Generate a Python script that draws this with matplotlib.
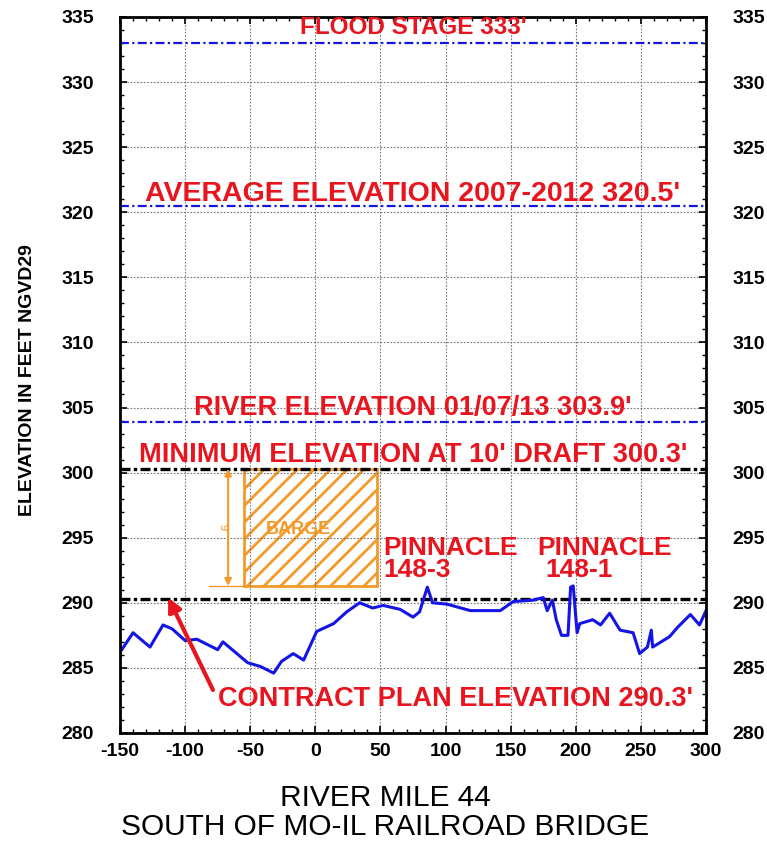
import numpy as np
import matplotlib.pyplot as plt
from matplotlib.patches import Rectangle

plt.rcParams['font.family'] = ['Liberation Sans', 'DejaVu Sans']
plt.rcParams['axes.unicode_minus'] = False
plt.rcParams['hatch.linewidth'] = 2.0
plt.rcParams['hatch.color'] = '#f39a2a'

# bed profile (river mile offset, elevation)
profile_x = [-150, -140, -127, -117, -110, -100, -91, -75, -71, -52, -42, -32, -26, -17, -9, 1,
             14, 24, 34, 44, 52, 65, 75, 80, 86, 90, 101, 119, 142, 152, 167, 175, 178, 182,
             185, 189, 194, 196, 198, 201, 203, 213, 219, 226, 234, 244, 249, 255, 258, 259,
             272, 278, 288, 295, 300]
profile_y = [286.2, 287.7, 286.6, 288.3, 288.0, 287.1, 287.2, 286.4, 287.0, 285.4, 285.1, 284.6,
             285.5, 286.1, 285.6, 287.8, 288.4, 289.3, 290.0, 289.6, 289.8, 289.5, 288.9, 289.3,
             291.2, 290.0, 289.9, 289.4, 289.4, 290.1, 290.2, 290.4, 289.4, 290.2, 288.7, 287.5,
             287.5, 291.2, 291.3, 287.7, 288.4, 288.7, 288.3, 289.2, 287.9, 287.7, 286.1, 286.6,
             287.9, 286.6, 287.4, 288.1, 289.1, 288.3, 289.4]

blue_levels = [333.0, 320.5, 303.9]
blue_labels = ["FLOOD STAGE 333'", "AVERAGE ELEVATION 2007-2012 320.5'", "RIVER ELEVATION 01/07/13 303.9'"]
black_levels = [300.3, 290.3]
min_label = "MINIMUM ELEVATION AT 10' DRAFT 300.3'"
contract_label = "CONTRACT PLAN ELEVATION 290.3'"

barge_x = [-55, 47]
barge_y = [291.3, 300.3]

red = '#e8141e'
blue = '#1414e6'
orange = '#f39a2a'

fig = plt.figure(figsize=(7.67, 8.47), dpi=100)
ax = fig.add_axes([0.1565, 0.1346, 0.764, 0.8454])

ax.set_xlim(-150, 300)
ax.set_ylim(280, 335)
ax.set_xticks(np.arange(-150, 301, 50))
ax.set_yticks(np.arange(280, 336, 5))
ax.set_xticks(np.arange(-150, 301, 10), minor=True)
ax.set_yticks(np.arange(280, 336, 1), minor=True)
ax.grid(True, which='major', color='#777777', linestyle=(0, (1.5, 1.5)), linewidth=0.8)
ax.tick_params(which='both', direction='in', top=True, right=True, labelright=True, labelsize=14)
ax.tick_params(axis='y', which='major', pad=19)
ax.tick_params(axis='x', which='major', pad=7)
ax.tick_params(which='major', length=5, width=1.2)
ax.tick_params(which='minor', length=3, width=1)
for lbl in ax.get_xticklabels() + ax.get_yticklabels():
    lbl.set_fontweight('bold')
for sp in ax.spines.values():
    sp.set_linewidth(2)

# reference levels
sizes = [17.5, 20.5, 19.5]
offsets = [0.7, 0.35, 0.5]
for lev, lab, fs, off in zip(blue_levels, blue_labels, sizes, offsets):
    ax.axhline(lev, color=blue, linewidth=1.6, dashes=(4, 1.5, 1, 1.5))
    ax.text(75, lev + off, lab, color=red, fontsize=fs, fontweight='bold', ha='center', va='baseline')
for lev in black_levels:
    ax.axhline(lev, color='black', linewidth=2.4, dashes=(3, 1, 1, 1))
ax.text(75, black_levels[0] + 0.5, min_label, color=red, fontsize=19.5, fontweight='bold',
        ha='center', va='baseline')

# barge
ax.add_patch(Rectangle((barge_x[0], barge_y[0]), barge_x[1] - barge_x[0], barge_y[1] - barge_y[0],
                       facecolor='none', edgecolor=orange, hatch='//', linewidth=2))
ax.text(-13, 295.6, 'BARGE', color=orange, fontsize=13, fontweight='bold', ha='center', va='center')
ax.annotate('', xy=(-67, barge_y[1]), xytext=(-67, barge_y[0]),
            arrowprops=dict(arrowstyle='<|-|>', color=orange, lw=1.5, mutation_scale=10,
                            shrinkA=0, shrinkB=0))
ax.plot([-82, barge_x[0]], [barge_y[0], barge_y[0]], color=orange, lw=1)
ax.text(-71, 295.7, "9'", color=orange, fontsize=8, rotation=-90, ha='center', va='center')

# pinnacles
ax.text(52, 293.7, 'PINNACLE', color=red, fontsize=19, fontweight='bold', ha='left', va='baseline')
ax.text(52.3, 292.0, '148-3', color=red, fontsize=19, fontweight='bold', ha='left', va='baseline')
ax.text(170.3, 293.7, 'PINNACLE', color=red, fontsize=19, fontweight='bold', ha='left', va='baseline')
ax.text(176.5, 292.0, '148-1', color=red, fontsize=19, fontweight='bold', ha='left', va='baseline')

# profile
ax.plot(profile_x, profile_y, color=blue, linewidth=2.2)

# contract plan arrow
ax.annotate('', xy=(-113, 290.4), xytext=(-78.6, 283.3),
            arrowprops=dict(arrowstyle='-|>', color=red, lw=3, mutation_scale=20, shrinkA=0, shrinkB=0))
ax.text(-74.7, 282.1, contract_label, color=red, fontsize=19.5, fontweight='bold',
        ha='left', va='baseline')

fig.text(28 / 767, 1 - 380 / 847, 'ELEVATION IN FEET NGVD29', fontsize=14, fontweight='bold',
         rotation=90, ha='center', va='center')
fig.text(0.502, 1 - 806 / 847, 'RIVER MILE 44', fontsize=21.5, ha='center', va='baseline')
fig.text(0.502, 1 - 835 / 847, 'SOUTH OF MO-IL RAILROAD BRIDGE', fontsize=21.5, ha='center', va='baseline')

fig.savefig('out.png', dpi=100)
